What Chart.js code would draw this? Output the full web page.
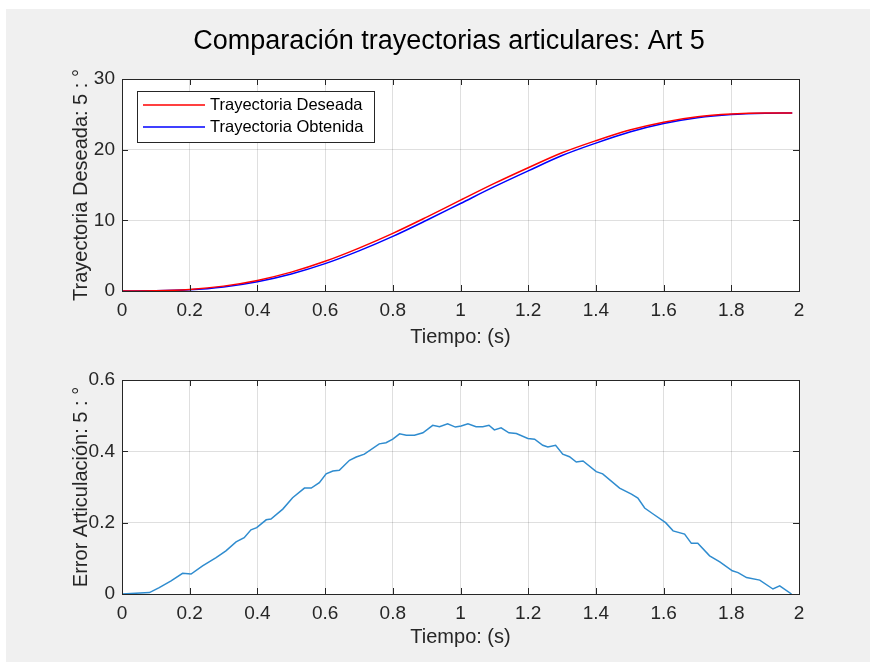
<!DOCTYPE html>
<html>
<head>
<meta charset="utf-8">
<script src="https://cdn.jsdelivr.net/npm/chart.js@4.4.1/dist/chart.umd.min.js"></script>
<style>
  html, body { margin: 0; padding: 0; background: #fff; }
  #fig { position: absolute; left: 6px; top: 9px; width: 864px; height: 653px; background: #f0f0f0; }
  .wrap { position: absolute; left: 0; width: 870px; }
  #w1 { top: 0; height: 360px; }
  #w2 { top: 360px; height: 303px; }
</style>
</head>
<body>
<div id="fig"></div>
<div class="wrap" id="w1"><canvas id="c1" width="870" height="360"></canvas></div>
<div class="wrap" id="w2"><canvas id="c2" width="870" height="303"></canvas></div>
<script>
// tiempo (s) y trayectorias articulares (grados)
const tTray = [0, 0.1, 0.2, 0.3, 0.4, 0.5, 0.6, 0.7, 0.8, 0.9, 1.0, 1.1, 1.2, 1.3, 1.4, 1.5, 1.6, 1.7, 1.8, 1.9, 1.98];
const deseada = [0, 0.03, 0.22, 0.69, 1.5, 2.67, 4.2, 6.07, 8.16, 10.46, 12.85, 15.22, 17.44, 19.56, 21.27, 22.78, 23.89, 24.65, 25.03, 25.19, 25.2];
const obtenida = [0, 0.02, 0.16, 0.57, 1.31, 2.41, 3.87, 5.68, 7.73, 10.01, 12.38, 14.76, 17.0, 19.17, 20.93, 22.5, 23.69, 24.51, 24.97, 25.16, 25.2];

// error articular
const tErr = [0, 0.04, 0.081, 0.11, 0.145, 0.179, 0.204, 0.238, 0.278, 0.307, 0.337, 0.361, 0.381, 0.398, 0.426, 0.44,
  0.475, 0.504, 0.539, 0.559, 0.583, 0.603, 0.623, 0.642, 0.672, 0.692, 0.716, 0.76, 0.78, 0.8, 0.82, 0.84, 0.864,
  0.889, 0.918, 0.938, 0.962, 0.985, 1.002, 1.022, 1.046, 1.066, 1.084, 1.1, 1.12, 1.143, 1.165, 1.199, 1.219, 1.243,
  1.258, 1.281, 1.302, 1.322, 1.342, 1.362, 1.401, 1.42, 1.47, 1.505, 1.524, 1.544, 1.568, 1.606, 1.628, 1.662, 1.682,
  1.701, 1.736, 1.766, 1.803, 1.82, 1.845, 1.884, 1.923, 1.943, 1.978];
const errVal = [0, 0.002, 0.004, 0.018, 0.037, 0.058, 0.056, 0.079, 0.102, 0.121, 0.146, 0.158, 0.18, 0.186, 0.208, 0.21,
  0.238, 0.27, 0.297, 0.297, 0.312, 0.337, 0.345, 0.347, 0.375, 0.384, 0.392, 0.421, 0.424, 0.434, 0.449, 0.445, 0.445,
  0.452, 0.473, 0.469, 0.477, 0.468, 0.471, 0.477, 0.469, 0.469, 0.473, 0.46, 0.466, 0.452, 0.45, 0.436, 0.434, 0.417,
  0.412, 0.417, 0.392, 0.385, 0.37, 0.373, 0.343, 0.337, 0.297, 0.28, 0.269, 0.241, 0.225, 0.2, 0.177, 0.168, 0.142,
  0.142, 0.107, 0.09, 0.065, 0.06, 0.046, 0.039, 0.014, 0.023, 0];

const xTicks = [0, 0.2, 0.4, 0.6, 0.8, 1, 1.2, 1.4, 1.6, 1.8, 2];
const xTickLabels = ['0', '0.2', '0.4', '0.6', '0.8', '1', '1.2', '1.4', '1.6', '1.8', '2'];
const yTicksTop = [0, 10, 20, 30];
const yTickLabelsTop = ['0', '10', '20', '30'];
const yTicksBot = [0, 0.2, 0.4, 0.6];
const yTickLabelsBot = ['0', '0.2', '0.4', '0.6'];

const FONT = '"Liberation Sans", Arial, Helvetica, sans-serif';
const INK = '#262626';
Chart.defaults.font.family = FONT;
Chart.defaults.color = INK;

function pts(xs, ys) {
  return xs.map((x, i) => ({ x: x, y: ys[i] }));
}

// caja de ejes estilo matlab: fondo blanco, marco, ticks hacia dentro, leyenda y titulo
const matlabAxes = {
  id: 'matlabAxes',
  beforeDraw(chart) {
    const a = chart.chartArea, ctx = chart.ctx;
    ctx.save();
    ctx.fillStyle = '#fff';
    ctx.fillRect(a.left, a.top, a.right - a.left, a.bottom - a.top);
    ctx.restore();
  },
  afterDatasetsDraw(chart, args, opts) {
    const a = chart.chartArea, ctx = chart.ctx;
    const sx = chart.scales.x, sy = chart.scales.y;
    ctx.save();
    ctx.strokeStyle = INK;
    ctx.lineWidth = 1;
    ctx.beginPath();
    sx.ticks.forEach(t => {
      const p = Math.round(sx.getPixelForValue(t.value)) + 0.5;
      ctx.moveTo(p, a.bottom); ctx.lineTo(p, a.bottom - 6);
      ctx.moveTo(p, a.top); ctx.lineTo(p, a.top + 6);
    });
    sy.ticks.forEach(t => {
      const p = Math.round(sy.getPixelForValue(t.value)) + 0.5;
      ctx.moveTo(a.left, p); ctx.lineTo(a.left + 6, p);
      ctx.moveTo(a.right, p); ctx.lineTo(a.right - 6, p);
    });
    ctx.stroke();
    ctx.strokeRect(a.left + 0.5, a.top + 0.5, a.right - a.left, a.bottom - a.top);

    if (opts.legend) {
      const x0 = a.left + 15, y0 = a.top + 12;
      ctx.fillStyle = '#fff';
      ctx.fillRect(x0, y0, 237, 51);
      ctx.strokeRect(x0 + 0.5, y0 + 0.5, 237, 51);
      ctx.font = '16.5px ' + FONT;
      ctx.textBaseline = 'middle';
      ctx.textAlign = 'left';
      chart.data.datasets.forEach((ds, i) => {
        const yy = y0 + 14 + i * 22;
        ctx.strokeStyle = ds.borderColor;
        ctx.lineWidth = 1.5;
        ctx.beginPath();
        ctx.moveTo(x0 + 6, yy); ctx.lineTo(x0 + 68, yy);
        ctx.stroke();
        ctx.fillStyle = '#000';
        ctx.fillText(ds.label, x0 + 73, yy);
      });
    }
    if (opts.title) {
      ctx.font = '27px ' + FONT;
      ctx.fillStyle = '#000';
      ctx.textAlign = 'center';
      ctx.textBaseline = 'middle';
      ctx.fillText(opts.title, 449, 42);
    }
    ctx.restore();
  }
};

function xScale(titlePad) {
  return {
    type: 'linear', min: 0, max: 2,
    afterBuildTicks: s => { s.ticks = xTicks.map(v => ({ value: v })); },
    afterFit: s => { s.height = 69; },
    grid: { color: 'rgba(38,38,38,0.15)', lineWidth: 1, drawTicks: false },
    border: { display: false },
    ticks: { padding: 8, maxRotation: 0, autoSkip: false, font: { size: 19 }, color: INK,
      callback: (v, i) => xTickLabels[i] },
    title: { display: true, text: 'Tiempo: (s)', font: { size: 20 }, color: INK, padding: { top: 0, bottom: titlePad } }
  };
}

function yScale(max, ticks, labels, title) {
  return {
    type: 'linear', min: 0, max: max,
    afterBuildTicks: s => { s.ticks = ticks.map(v => ({ value: v })); },
    afterFit: s => { s.width = 122; },
    grid: { color: 'rgba(38,38,38,0.15)', lineWidth: 1, drawTicks: false },
    border: { display: false },
    ticks: { padding: 7, font: { size: 19 }, color: INK, callback: (v, i) => labels[i] },
    title: { display: true, text: title, font: { size: 20 }, color: INK, padding: { top: 69, bottom: 0 } }
  };
}

new Chart(document.getElementById('c1'), {
  type: 'line',
  data: {
    datasets: [
      { label: 'Trayectoria Deseada', data: pts(tTray, deseada), borderColor: '#ff0000', borderWidth: 1.5,
        pointRadius: 0, cubicInterpolationMode: 'monotone', fill: false },
      { label: 'Trayectoria Obtenida', data: pts(tTray, obtenida), borderColor: '#0000ff', borderWidth: 1.5,
        pointRadius: 0, cubicInterpolationMode: 'monotone', fill: false }
    ]
  },
  options: {
    responsive: false,
    animation: false,
    layout: { padding: { left: 0, right: 71, top: 79, bottom: 0 } },
    scales: {
      x: xScale(11),
      y: yScale(30, yTicksTop, yTickLabelsTop, 'Trayectoria Deseada: 5 : °')
    },
    plugins: {
      legend: { display: false },
      tooltip: { enabled: false },
      matlabAxes: { legend: true, title: 'Comparación trayectorias articulares: Art 5' }
    }
  },
  plugins: [matlabAxes]
});

new Chart(document.getElementById('c2'), {
  type: 'line',
  data: {
    datasets: [
      { label: 'Error', data: pts(tErr, errVal), borderColor: '#2f8ccf', borderWidth: 1.5,
        pointRadius: 0, tension: 0, fill: false }
    ]
  },
  options: {
    responsive: false,
    animation: false,
    layout: { padding: { left: 0, right: 71, top: 20, bottom: 0 } },
    scales: {
      x: xScale(14),
      y: yScale(0.6, yTicksBot, yTickLabelsBot, 'Error Articulación: 5 : °')
    },
    plugins: {
      legend: { display: false },
      tooltip: { enabled: false },
      matlabAxes: {}
    }
  },
  plugins: [matlabAxes]
});
</script>
</body>
</html>
